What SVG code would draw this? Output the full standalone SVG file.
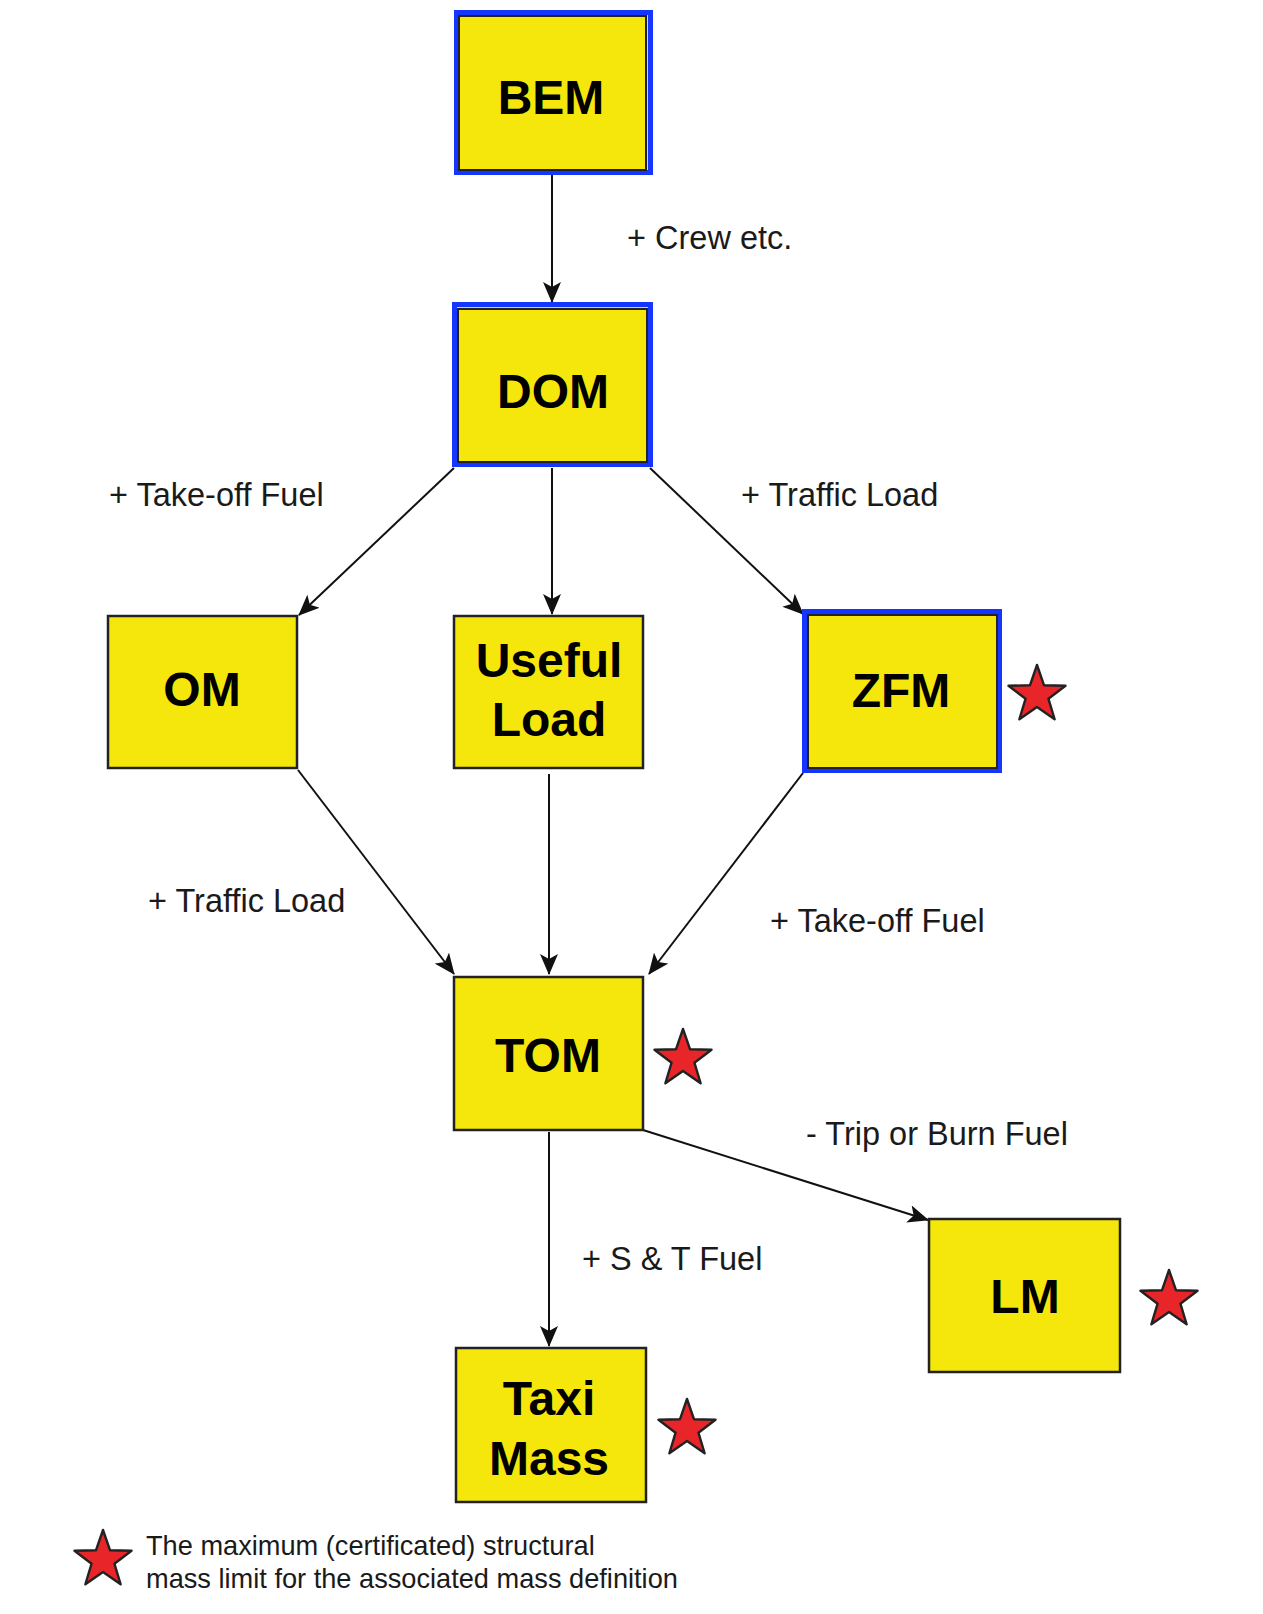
<svg xmlns="http://www.w3.org/2000/svg" width="1263" height="1614" viewBox="0 0 1263 1614">
<style>
.box{fill:#f5e70c;stroke:#222;stroke-width:2.5}
.blue{fill:none;stroke:#1436ff;stroke-width:5}
.inner{fill:none;stroke:#222;stroke-width:2}
.title{font-family:"Liberation Sans",Arial,sans-serif;font-weight:bold;font-size:48px;fill:#000;text-anchor:middle}
.lbl{font-family:"Liberation Sans",Arial,sans-serif;font-size:32.5px;fill:#1a1a1a}
.leg{font-family:"Liberation Sans",Arial,sans-serif;font-size:27.2px;fill:#1a1a1a}
.conn{stroke:#111;stroke-width:2;fill:none;marker-end:url(#ah)}
.star{fill:#e8262a;stroke:#222;stroke-width:2.4;stroke-linejoin:round}
</style>
<defs>
<marker id="ah" markerWidth="22" markerHeight="18" refX="20" refY="9" orient="auto" markerUnits="userSpaceOnUse">
<path d="M0,0 L21,9 L0,18 L5,9 z" fill="#111"/>
</marker>
<polygon id="starshape" points="0,-30 7.05,-9.71 28.53,-9.27 11.41,3.71 17.63,24.27 0,12 -17.63,24.27 -11.41,3.71 -28.53,-9.27 -7.05,-9.71"/>
</defs>
<rect width="1263" height="1614" fill="#fff"/>

<g id="connectors">
<line class="conn" x1="552" y1="175" x2="552" y2="302"/>
<line class="conn" x1="454" y1="468" x2="299" y2="615"/>
<line class="conn" x1="552" y1="468" x2="552" y2="614"/>
<line class="conn" x1="650" y1="468" x2="803" y2="614"/>
<line class="conn" x1="298" y1="770" x2="454" y2="974"/>
<line class="conn" x1="549" y1="774" x2="549" y2="974"/>
<line class="conn" x1="803" y1="773" x2="649" y2="974"/>
<line class="conn" x1="643" y1="1130" x2="928" y2="1220"/>
<line class="conn" x1="549" y1="1132" x2="549" y2="1346"/>
</g>

<g id="labels">
<text class="lbl" x="627" y="249">+ Crew etc.</text>
<text class="lbl" x="109" y="506">+ Take-off Fuel</text>
<text class="lbl" x="741" y="506">+ Traffic Load</text>
<text class="lbl" x="148" y="912">+ Traffic Load</text>
<text class="lbl" x="770" y="932">+ Take-off Fuel</text>
<text class="lbl" x="806" y="1145">- Trip or Burn Fuel</text>
<text class="lbl" x="582" y="1270">+ S &amp; T Fuel</text>
</g>

<g id="node-bem">
<rect class="box" x="457" y="13" width="193" height="159" style="stroke:none"/>
<rect class="blue" x="456.5" y="12.5" width="194" height="160"/>
<rect class="inner" x="459" y="16" width="187" height="154"/>
<text class="title" x="551" y="114">BEM</text>
</g>

<g id="node-dom">
<rect class="box" x="455" y="305" width="195" height="159" style="stroke:none"/>
<rect class="blue" x="454.5" y="304.5" width="196" height="160"/>
<rect class="inner" x="458" y="309" width="189" height="153"/>
<text class="title" x="553" y="408">DOM</text>
</g>

<g id="node-om">
<rect class="box" x="108" y="616" width="189" height="152"/>
<text class="title" x="202" y="706">OM</text>
</g>

<g id="node-useful-load">
<rect class="box" x="454" y="616" width="189" height="152"/>
<text class="title" x="549" y="677">Useful</text>
<text class="title" x="549" y="736">Load</text>
</g>

<g id="node-zfm">
<rect class="box" x="805" y="612" width="194" height="158" style="stroke:none"/>
<rect class="blue" x="804.5" y="611.5" width="195" height="159"/>
<rect class="inner" x="808" y="615" width="189" height="153"/>
<text class="title" x="901" y="707">ZFM</text>
<use href="#starshape" class="star" x="1037" y="695"/>
</g>

<g id="node-tom">
<rect class="box" x="454" y="977" width="189" height="153"/>
<text class="title" x="548" y="1072">TOM</text>
<use href="#starshape" class="star" x="683" y="1059"/>
</g>

<g id="node-lm">
<rect class="box" x="929" y="1219" width="191" height="153"/>
<text class="title" x="1025" y="1313">LM</text>
<use href="#starshape" class="star" x="1169" y="1300"/>
</g>

<g id="node-taxi-mass">
<rect class="box" x="456" y="1348" width="190" height="154"/>
<text class="title" x="549" y="1415">Taxi</text>
<text class="title" x="549" y="1475">Mass</text>
<use href="#starshape" class="star" x="687" y="1429"/>
</g>

<g id="legend">
<use href="#starshape" class="star" x="103" y="1560"/>
<text class="leg" x="146" y="1555">The maximum (certificated) structural</text>
<text class="leg" x="146" y="1588">mass limit for the associated mass definition</text>
</g>
</svg>
